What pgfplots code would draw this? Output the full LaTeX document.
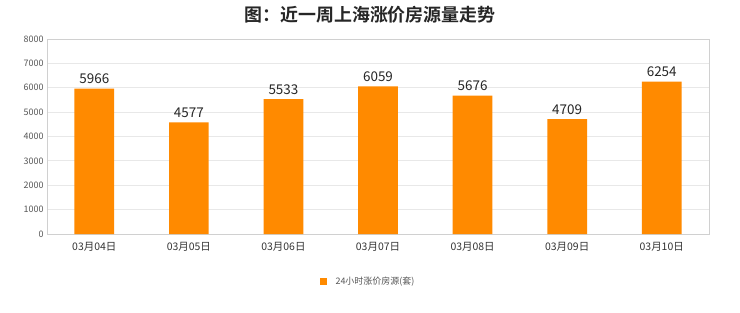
\documentclass[border=0pt]{standalone}
\usepackage{fontspec}
\setmainfont{Noto Sans CJK SC}
\newfontfamily\cjk{Noto Sans CJK SC}
\newfontfamily\cjkbold{Noto Sans CJK SC Bold}
\usepackage{pgfplots}
\pgfplotsset{compat=1.18}
\definecolor{barorange}{HTML}{FF8A00}
\definecolor{gridgray}{HTML}{E8E8E8}
\definecolor{framegray}{HTML}{D0D0D0}
\definecolor{ticktext}{HTML}{555555}
\begin{document}
\begin{tikzpicture}[x=1bp,y=1bp]
\useasboundingbox (0,0) rectangle (740,312);
\fill[white] (0,0) rectangle (740,312);
\node[font=\cjkbold\fontsize{18}{18}\selectfont, text=black!85] at (370,297) {图：近一周上海涨价房源量走势};
\begin{axis}[
  at={(47bp,78bp)}, anchor=south west,
  scale only axis, width=662bp, height=195bp,
  xmin=-0.5, xmax=6.5, ymin=0, ymax=8000,
  xtick={0,...,6},
  xticklabels={03月04日,03月05日,03月06日,03月07日,03月08日,03月09日,03月10日},
  ytick={0,1000,...,8000},
  ymajorgrids, grid style={gridgray, line width=0.8pt},
  axis line style={framegray, line width=0.8pt},
  major tick length=0pt,
  ticklabel style={font=\fontsize{9}{9}\selectfont, text=ticktext},
  xticklabel style={font=\fontsize{10.5}{10.5}\selectfont, text=black!80, yshift=-5bp},
  /pgf/number format/assume math mode=true,
  scaled y ticks=false,
  yticklabel style={/pgf/number format/1000 sep={}},
  ybar, bar width=0.42,
  nodes near coords,
  nodes near coords style={font=\fontsize{13.5}{13.5}\selectfont, text=black!85, anchor=south, yshift=1bp, /pgf/number format/1000 sep={}},
  clip=false,
]
\addplot[fill=barorange, draw=none] coordinates {
  (0,5966) (1,4577) (2,5533) (3,6059) (4,5676) (5,4709) (6,6254)
};
\end{axis}
\fill[barorange] (320,27) rectangle (327,34);
\node[anchor=west, font=\fontsize{9}{9}\selectfont, text=ticktext] at (332,30.5) {24小时涨价房源(套)};
\end{tikzpicture}
\end{document}
